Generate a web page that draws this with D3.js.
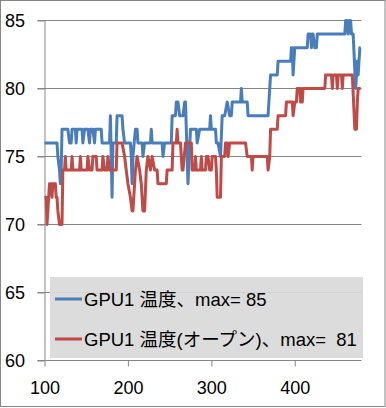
<!DOCTYPE html>
<html>
<head>
<meta charset="utf-8">
<script src="https://cdn.jsdelivr.net/npm/d3@7"></script>
<style>
html,body{margin:0;padding:0;background:#fff;}
svg{display:block;}
text{font-family:"Liberation Sans","Noto Sans CJK JP",sans-serif;}
</style>
</head>
<body>
<script>
// ---- data ----
const xTicks = [100, 200, 300, 400];
const yTicks = [60, 65, 70, 75, 80, 85];
const seriesNames = ["GPU1 温度、max= 85", "GPU1 温度(オープン)、max=  81"];
const seriesColors = ["#4a7ebb", "#be4b48"];

// GPU1 温度 : [sample, value]
const gpuTemp = [[100,76],[115,76],[116,75],[118,74],[119,73],[120,74],[121,77],[128,77],[130,76],[132,76],[133,77],[137,77],[138,76],[139,77],[145,77],[146,76],[148,77],[152,77],[154,76],[155,77],[158,77],[160,76],[161,77],[168,77],[169,76],[178,76],[179,78],[180,75],[181,72],[182,76],[186,76],[187,78],[193,78],[194,77],[196,76],[203,76],[204,75],[205,73],[206,75],[209,77],[211,77],[212,76],[217,76],[218,75],[220,76],[227,76],[228,77],[229,76],[241,76],[242,75],[244,76],[252,76],[253,78],[257,78],[258,79],[260,79],[262,78],[266,78],[268,79],[269,79],[270,77],[272,73],[275,77],[282,77],[283,76],[286,77],[298,77],[299,78],[300,77],[305,77],[306,76],[308,76],[311,75],[313,78],[316,78],[319,79],[322,78],[324,78],[325,79],[335,79],[336,80],[337,79],[343,79],[344,78],[368,78],[371,81],[379,81],[380,82],[395,82],[396,83],[397,83],[398,81],[400,83],[415,83],[416,84],[419,84],[420,83],[421,84],[422,84],[424,83],[426,83],[427,84],[460,84],[461,85],[463,85],[464,84],[466,85],[467,85],[468,84],[470,84],[473,80],[474,81],[475,82],[476,81],[478,83],[479,83]];

// GPU1 温度(オープン) : [sample, value]
const gpuTempOpen = [[100,72],[102,72],[103,70],[104,71],[106,73],[108,73],[109,72],[110,73],[113,73],[114,72],[115,72],[116,71],[118,70],[121,70],[122,74],[124,74],[125,75],[126,74],[132,74],[133,75],[134,74],[142,74],[143,75],[144,74],[151,74],[152,75],[154,74],[157,74],[158,75],[162,75],[163,74],[169,74],[170,75],[172,74],[175,74],[176,75],[178,74],[186,74],[187,76],[193,76],[196,75],[198,74],[200,73],[203,72],[205,71],[206,71],[209,74],[211,75],[214,74],[216,73],[218,71],[220,71],[222,74],[224,75],[227,74],[229,75],[232,74],[235,74],[236,73],[246,73],[247,74],[253,74],[254,76],[258,76],[259,77],[260,76],[263,76],[265,74],[266,74],[269,76],[276,76],[277,74],[280,74],[281,75],[282,74],[287,74],[288,75],[289,74],[293,74],[294,75],[296,75],[298,74],[300,74],[301,75],[305,75],[306,74],[307,72],[311,72],[312,75],[316,75],[317,76],[319,76],[320,75],[322,76],[341,76],[343,75],[348,75],[349,74],[350,75],[367,75],[368,74],[370,75],[371,77],[379,77],[380,78],[389,78],[390,79],[397,79],[398,78],[400,79],[402,79],[403,80],[406,80],[407,79],[408,80],[409,79],[410,80],[436,80],[437,81],[444,81],[445,80],[446,81],[450,81],[451,80],[452,81],[456,81],[457,80],[458,81],[469,81],[472,77],[473,78],[474,77],[475,79],[476,80],[479,80]];

// ---- chart ----
const W = 386, H = 408;
const svg = d3.select("body").append("svg").attr("width", W).attr("height", H);
const axisColor = "#868686";

svg.append("rect").attr("x", 0.5).attr("y", 0.5).attr("width", W - 1.5).attr("height", H - 2)
  .attr("fill", "#fff").attr("stroke", axisColor).attr("stroke-width", 1);

const x = d3.scaleLinear().domain([100, 480]).range([44.5, 361.5]);
const y = d3.scaleLinear().domain([60, 85]).range([360.5, 20.5]);

// gridlines
svg.append("g").selectAll("line").data(yTicks.filter(v => v !== 60)).join("line")
  .attr("x1", 37.5).attr("x2", 361.5)
  .attr("y1", d => y(d)).attr("y2", d => y(d))
  .attr("stroke", axisColor).attr("stroke-width", 1);

// axes
const gy = svg.append("g").attr("transform", "translate(44.5,0)")
  .call(d3.axisLeft(y).tickValues(yTicks).tickSize(7).tickSizeOuter(0).tickPadding(12.5));
const gx = svg.append("g").attr("transform", "translate(0,360.5)")
  .call(d3.axisBottom(x).tickValues(xTicks).tickSize(6).tickSizeOuter(0).tickPadding(15));
[gx, gy].forEach(g => {
  g.select(".domain").attr("stroke", axisColor);
  g.selectAll(".tick line").attr("stroke", axisColor);
  g.selectAll(".tick text").attr("fill", "#000").style("font-size", "18px")
    .style("font-family", '"Liberation Sans","Noto Sans CJK JP",sans-serif');
});
// bottom axis spans from the left tick end
gx.select(".domain").attr("d", "M37.5,0.5H361.5".replace("0.5", "0"));

// lines
const line = d3.line().x(d => x(d[0])).y(d => y(d[1]));
[gpuTemp, gpuTempOpen].forEach((s, i) => {
  svg.append("path").datum(s).attr("d", line)
    .attr("fill", "none").attr("stroke", seriesColors[i])
    .attr("stroke-width", 3).attr("stroke-linejoin", "round").attr("stroke-linecap", "butt");
});

// legend
const lg = svg.append("g");
lg.append("rect").attr("x", 50).attr("y", 277).attr("width", 313).attr("height", 81)
  .attr("fill", "#d9d9d9").attr("fill-opacity", 0.92);
seriesNames.forEach((name, i) => {
  const cy = 299 + i * 40;
  lg.append("line").attr("x1", 55).attr("x2", 82).attr("y1", cy).attr("y2", cy)
    .attr("stroke", seriesColors[i]).attr("stroke-width", 3);
  lg.append("text").attr("x", 84).attr("y", cy + 6.5)
    .attr("xml:space", "preserve").style("white-space", "pre")
    .style("font-size", "18.5px").attr("fill", "#000").text(name);
});
</script>
</body>
</html>
